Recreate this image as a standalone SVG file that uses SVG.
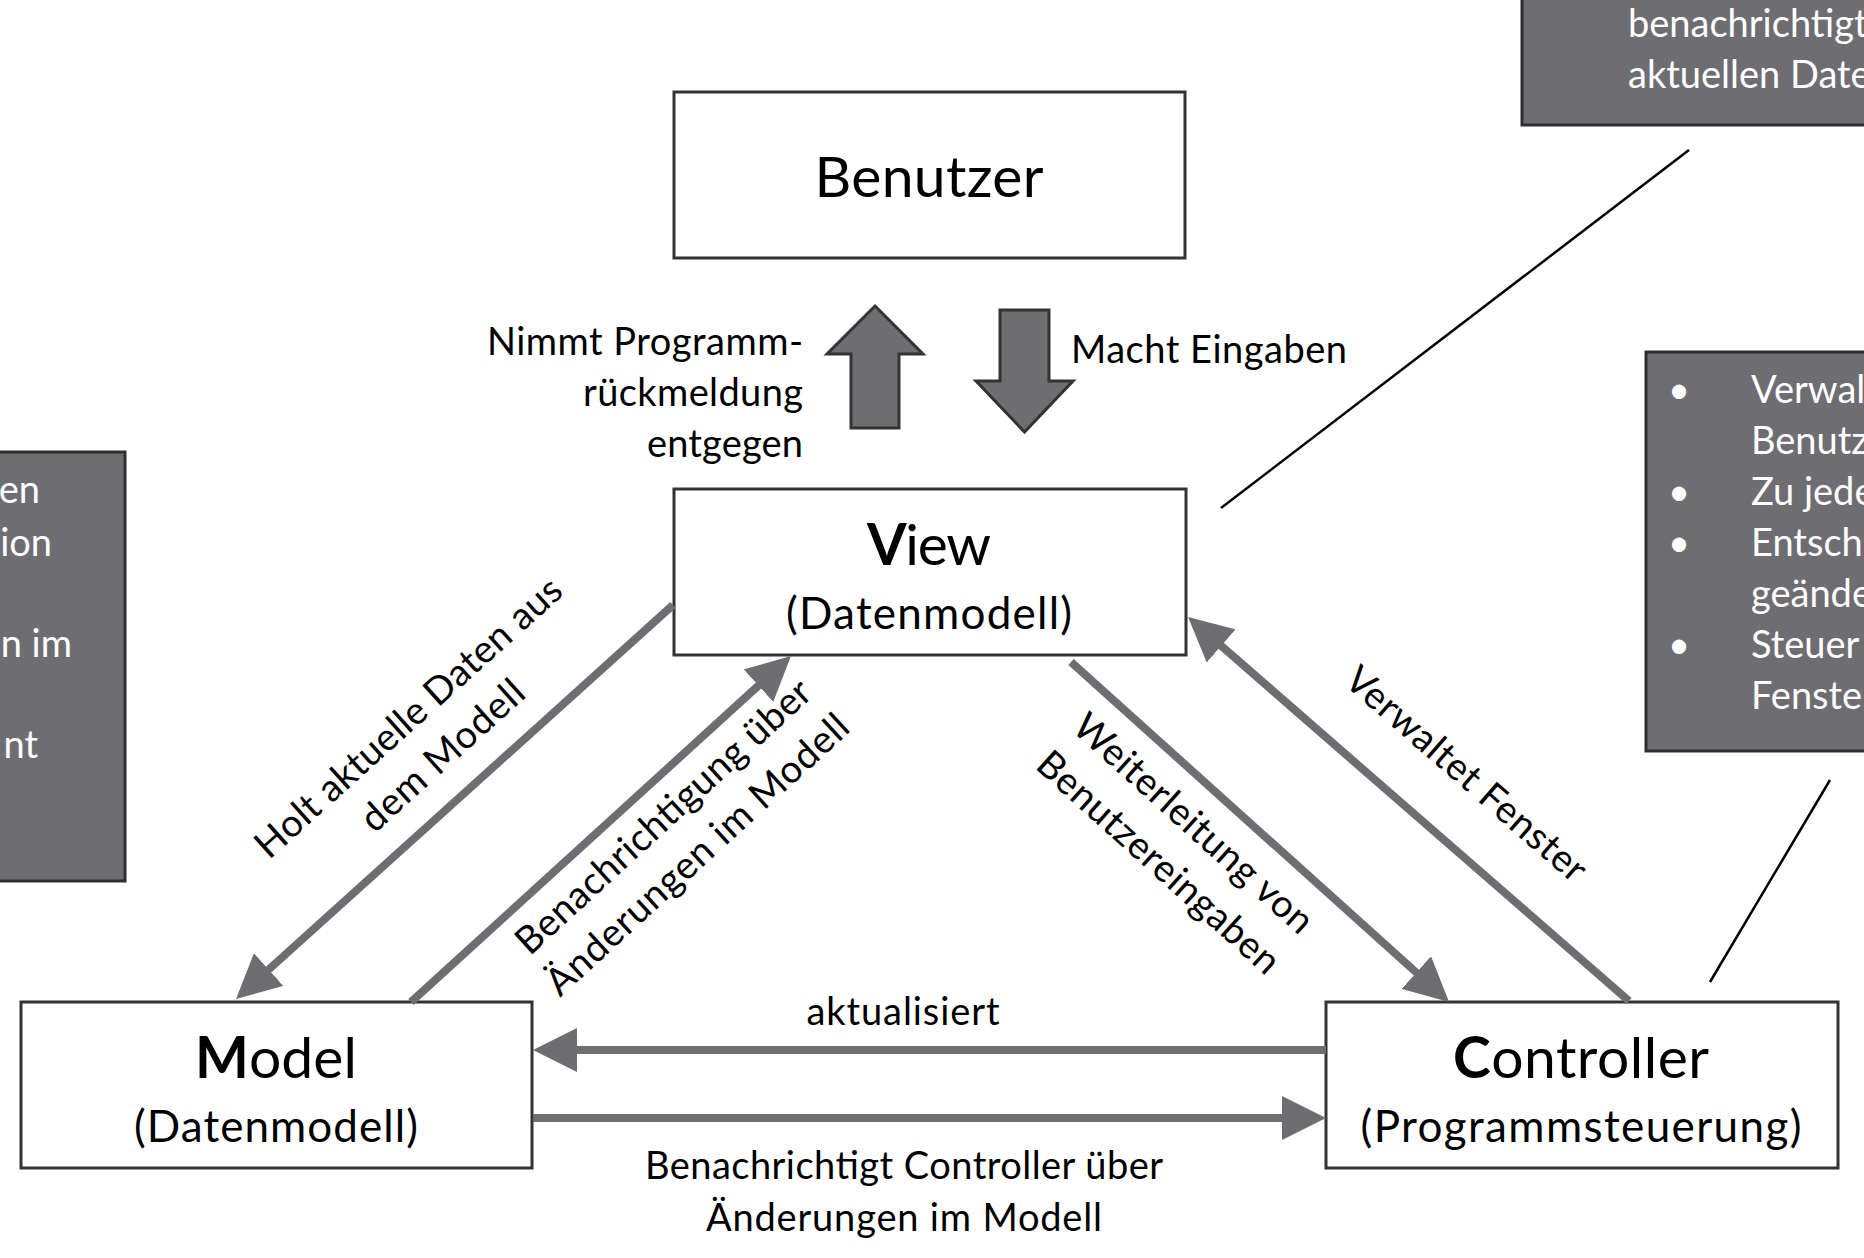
<svg xmlns="http://www.w3.org/2000/svg" width="1864" height="1258" viewBox="0 0 1864 1258">
<style>
  text { font-family: Lato, "Liberation Sans", sans-serif; fill: #000; }
  .node rect { fill: #fff; stroke: #333; stroke-width: 3; }
  .note rect { fill: #6e6d72; stroke: #2e2e2e; stroke-width: 3; }
  .note text { fill: #fff; font-size: 38px; }
  .title { font-size: 57px; }
  .sub { font-size: 44px; }
  .lbl { font-size: 38px; }
  .b { font-weight: bold; }
  .conn line { stroke: #6e6d72; stroke-width: 8; fill: none; marker-end: url(#ah); }
  .block { fill: #6e6d72; stroke: #333; stroke-width: 3; stroke-linejoin: miter; }
  .callout { stroke: #000; stroke-width: 2.5; }
</style>
<defs>
  <marker id="ah" markerUnits="userSpaceOnUse" markerWidth="44" markerHeight="44" viewBox="0 0 44 44" refX="2" refY="22" orient="auto">
    <path d="M0,0 L44,22 L0,44 Z" fill="#6e6d72"/>
  </marker>
</defs>
<rect x="0" y="0" width="1864" height="1258" fill="#fff"/>

<g id="note-top" class="note">
  <rect x="1522" y="-10" width="360" height="135"/>
  <text x="1628" y="37">benachrichtigt</text>
  <text x="1628" y="88">aktuellen Daten</text>
</g>
<g id="note-right" class="note">
  <rect x="1646" y="352" width="230" height="399"/>
  <text x="1679" y="403" text-anchor="middle">•</text>
  <text x="1751" y="403">Verwalt</text>
  <text x="1751" y="454">Benutz</text>
  <text x="1679" y="505" text-anchor="middle">•</text>
  <text x="1751" y="505">Zu jede</text>
  <text x="1679" y="556" text-anchor="middle">•</text>
  <text x="1751" y="556">Entsch</text>
  <text x="1751" y="607">geände</text>
  <text x="1679" y="658" text-anchor="middle">•</text>
  <text x="1751" y="658">Steuer</text>
  <text x="1751" y="709">Fenste</text>
</g>
<g id="note-left" class="note">
  <rect x="-10" y="452" width="135" height="429"/>
  <text x="40" y="503" text-anchor="end">en</text>
  <text x="52" y="556" text-anchor="end">ion</text>
  <text x="72" y="657" text-anchor="end">n im</text>
  <text x="38" y="758" text-anchor="end">nt</text>
</g>

<g id="callouts">
  <line class="callout" x1="1221" y1="508" x2="1689" y2="150"/>
  <line class="callout" x1="1710" y1="982" x2="1830" y2="780"/>
</g>

<g id="benutzer" class="node">
  <rect x="674" y="92" width="511" height="166"/>
  <text class="title" x="929" y="197" text-anchor="middle" textLength="229">Benutzer</text>
</g>
<g id="view" class="node">
  <rect x="674" y="489" width="512" height="166"/>
  <text class="title" x="929" y="565" text-anchor="middle" textLength="124"><tspan class="b">V</tspan>iew</text>
  <text class="sub" x="929" y="629" text-anchor="middle" textLength="286">(Datenmodell)</text>
</g>
<g id="model" class="node">
  <rect x="21" y="1002" width="511" height="166"/>
  <text class="title" x="276" y="1078" text-anchor="middle" textLength="162"><tspan class="b">M</tspan>odel</text>
  <text class="sub" x="276" y="1142" text-anchor="middle" textLength="284">(Datenmodell)</text>
</g>
<g id="controller" class="node">
  <rect x="1326" y="1002" width="512" height="166"/>
  <text class="title" x="1581" y="1078" text-anchor="middle" textLength="256"><tspan class="b">C</tspan>ontroller</text>
  <text class="sub" x="1581" y="1142" text-anchor="middle" textLength="441">(Programmsteuerung)</text>
</g>

<g id="connectors">
  <polygon class="block" points="875,306 923,354 899,354 899,428 851,428 851,354 827,354"/>
  <polygon class="block" points="1000,310 1049,310 1049,381 1073,381 1024.5,432 976,381 1000,381"/>
  <g class="conn">
    <line x1="673" y1="605" x2="267.2" y2="970.9"/>
    <line x1="411" y1="1002" x2="759.9" y2="684.3"/>
    <line x1="1071" y1="662" x2="1417.8" y2="973.9"/>
    <line x1="1629" y1="1001" x2="1219.7" y2="644.6"/>
    <line x1="1326" y1="1050" x2="575" y2="1050"/>
    <line x1="533" y1="1118" x2="1284" y2="1118"/>
  </g>
  <g id="labels" class="lbl">
    <text class="lbl" x="803" y="355" text-anchor="end" textLength="316">Nimmt Programm-</text>
    <text class="lbl" x="803" y="406" text-anchor="end" textLength="220">rückmeldung</text>
    <text class="lbl" x="803" y="457" text-anchor="end" textLength="156">entgegen</text>
    <text class="lbl" x="1071" y="363" textLength="276">Macht Eingaben</text>
    <text class="lbl" x="903" y="1025" text-anchor="middle" textLength="193">aktualisiert</text>
    <text class="lbl" x="904" y="1179" text-anchor="middle" textLength="518">Benachrichtigt Controller über</text>
    <text class="lbl" x="904" y="1231" text-anchor="middle" textLength="396">Änderungen im Modell</text>
    <text class="lbl" transform="translate(417,727) rotate(-42)" text-anchor="middle" textLength="398">Holt aktuelle Daten aus</text>
    <text class="lbl" transform="translate(451,765) rotate(-42)" text-anchor="middle" textLength="206">dem Modell</text>
    <text class="lbl" transform="translate(672,826) rotate(-42.5)" text-anchor="middle" textLength="386">Benachrichtigung über</text>
    <text class="lbl" transform="translate(706,864) rotate(-42.5)" text-anchor="middle" textLength="396">Änderungen im Modell</text>
    <text class="lbl" transform="translate(1185,833) rotate(42)" text-anchor="middle" textLength="308">Weiterleitung von</text>
    <text class="lbl" transform="translate(1150,872) rotate(42)" text-anchor="middle" textLength="312">Benutzereingaben</text>
    <text class="lbl" transform="translate(1458,784) rotate(41)" text-anchor="middle" textLength="306">Verwaltet Fenster</text>
  </g>
</g>
</svg>
